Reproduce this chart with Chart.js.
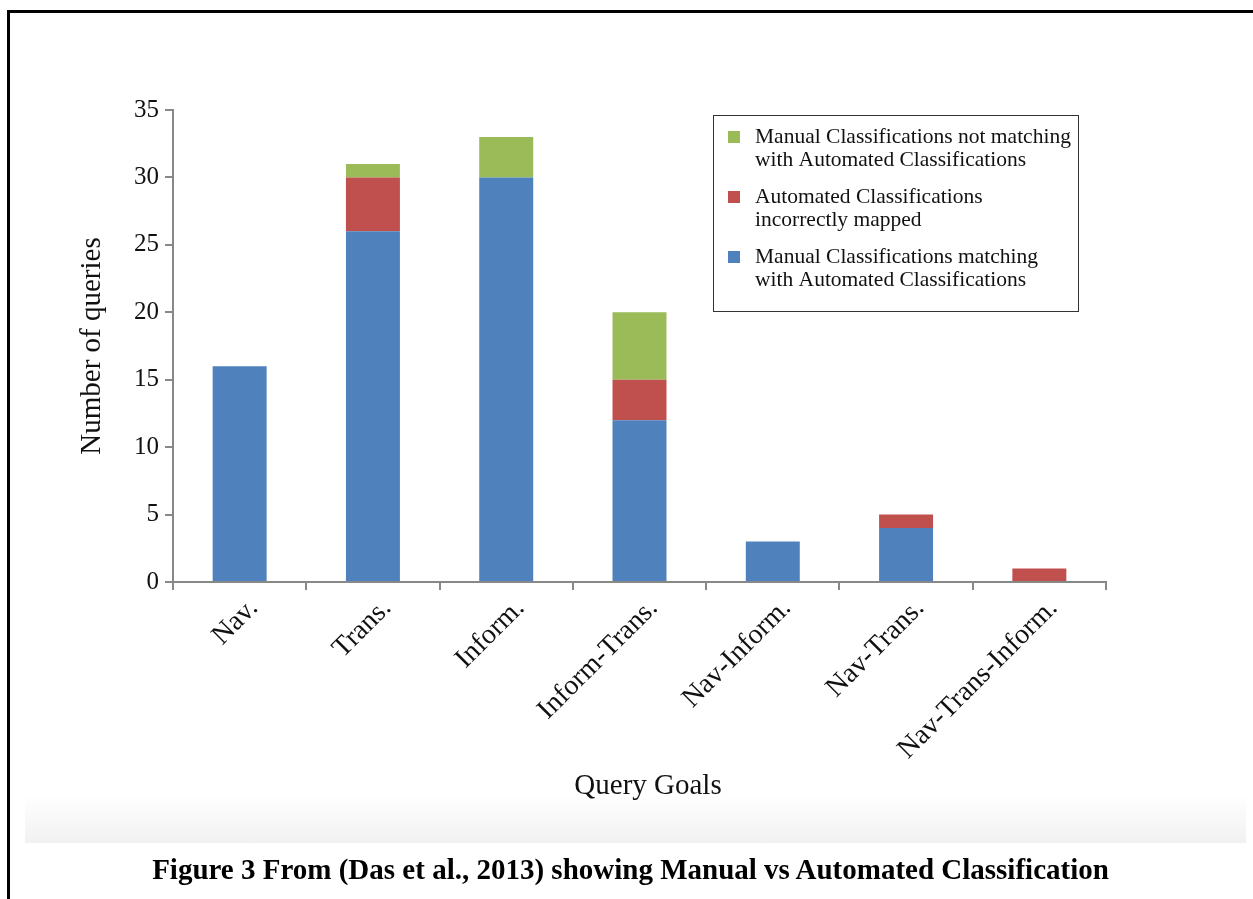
<!DOCTYPE html>
<html>
<head>
<meta charset="utf-8">
<script src="https://cdn.jsdelivr.net/npm/chart.js@4"></script>
<style>
  html, body { margin: 0; padding: 0; background: #fff; }
  body { width: 1253px; height: 899px; position: relative; overflow: hidden; }
  #frame { position: absolute; left: 7px; top: 10px; right: -10px; bottom: -10px;
           border-top: 3px solid #000; border-left: 3px solid #000; }
  #band { position: absolute; left: 25px; top: 795px; width: 1221px; height: 48px;
          background: linear-gradient(#fff, #f1f1f1); }
  #wrap { position: absolute; left: 0; top: 0; width: 1253px; height: 899px; }
  #caption { position: absolute; left: 0; width: 1253px; top: 853px; text-align: center; line-height: 34px;
             font: bold 29px "Liberation Serif", "Times New Roman", serif; color: #000; margin-left: 4px; }
</style>
</head>
<body>
<div id="frame"></div>
<div id="band"></div>
<div id="wrap"><canvas id="c" width="1253" height="899"></canvas></div>
<div id="caption">Figure 3 From (Das et al., 2013) showing Manual vs Automated Classification</div>
<script>
// Query goal categories and counts per classification outcome
const categories = ["Nav.", "Trans.", "Inform.", "Inform-Trans.", "Nav-Inform.", "Nav-Trans.", "Nav-Trans-Inform."];
const matching   = [16, 26, 30, 12, 3, 4, 0];
const incorrect  = [0, 4, 0, 3, 0, 1, 1];
const notMatching = [0, 1, 3, 5, 0, 0, 0];
const yTicks = [0, 5, 10, 15, 20, 25, 30, 35];

const labelMatching = ["Manual Classifications matching", "with Automated Classifications"];
const labelIncorrect = ["Automated Classifications", "incorrectly mapped"];
const labelNotMatching = ["Manual Classifications not matching", "with Automated Classifications"];

const serif = '"Liberation Serif", "Times New Roman", serif';

// Boxed legend with wrapped labels, listed top series first
const boxLegend = {
  id: 'boxLegend',
  afterDraw(chart, args, opts) {
    const ctx = chart.ctx;
    ctx.save();
    ctx.strokeStyle = '#333';
    ctx.lineWidth = 1;
    ctx.strokeRect(opts.x + 0.5, opts.y + 0.5, opts.w, opts.h);
    ctx.font = opts.fontSize + 'px ' + serif;
    ctx.textBaseline = 'middle';
    ctx.textAlign = 'left';
    const ds = chart.data.datasets.slice().reverse();
    ds.forEach((d, i) => {
      const top = opts.y + opts.firstLine + i * opts.itemGap;
      ctx.fillStyle = d.backgroundColor;
      ctx.fillRect(opts.x + 15, top - 6, 12, 12);
      ctx.fillStyle = '#111';
      d.legendLines.forEach((line, j) => {
        ctx.fillText(line, opts.x + 42, top + j * opts.lineHeight);
      });
    });
    ctx.restore();
  }
};

// Axis title centred a little right of the plot centre
const xTitle = {
  id: 'xTitle',
  afterDraw(chart, args, opts) {
    const ctx = chart.ctx;
    ctx.save();
    ctx.font = opts.size + 'px ' + serif;
    ctx.fillStyle = '#111';
    ctx.textAlign = 'center';
    ctx.textBaseline = 'middle';
    ctx.fillText(opts.text, opts.x, opts.y);
    ctx.restore();
  }
};

new Chart(document.getElementById('c'), {
  type: 'bar',
  data: {
    labels: categories,
    datasets: [
      { label: labelMatching.join(' '), legendLines: labelMatching, data: matching, backgroundColor: '#4F81BD' },
      { label: labelIncorrect.join(' '), legendLines: labelIncorrect, data: incorrect, backgroundColor: '#C0504D' },
      { label: labelNotMatching.join(' '), legendLines: labelNotMatching, data: notMatching, backgroundColor: '#9BBB59' }
    ]
  },
  options: {
    responsive: false,
    animation: false,
    devicePixelRatio: 1,
    layout: { padding: { left: 20, top: 110, right: 147, bottom: 87 } },
    datasets: { bar: { categoryPercentage: 1.0, barPercentage: 0.405 } },
    plugins: {
      legend: { display: false },
      tooltip: { enabled: false },
      boxLegend: { x: 713, y: 115, w: 365, h: 196, fontSize: 21.5, firstLine: 22, lineHeight: 23, itemGap: 60 },
      xTitle: { text: 'Query Goals', size: 29, x: 648, y: 786 }
    },
    scales: {
      x: {
        stacked: true,
        offset: true,
        afterFit(scale) { scale.height = 230; },
        grid: { offset: true, drawOnChartArea: false, drawTicks: true, tickLength: 8, color: '#888', lineWidth: 2 },
        border: { color: '#888', width: 2 },
        ticks: { color: '#111', font: { family: serif, size: 28 }, maxRotation: 45, minRotation: 45, padding: 2, labelOffset: 14, autoSkip: false },
        title: { display: false }
      },
      y: {
        stacked: true,
        min: 0,
        max: 35,
        afterFit(scale) { scale.width = 153; },
        afterBuildTicks(scale) { scale.ticks = yTicks.map(v => ({ value: v })); },
        grid: { drawOnChartArea: false, drawTicks: true, tickLength: 8, color: '#888', lineWidth: 2 },
        border: { color: '#888', width: 2 },
        ticks: { color: '#111', font: { family: serif, size: 25 }, padding: 6 },
        title: { display: true, text: 'Number of queries', color: '#111', font: { family: serif, size: 29 }, padding: { top: 55, bottom: 0 } }
      }
    }
  },
  plugins: [boxLegend, xTitle]
});
</script>
</body>
</html>
